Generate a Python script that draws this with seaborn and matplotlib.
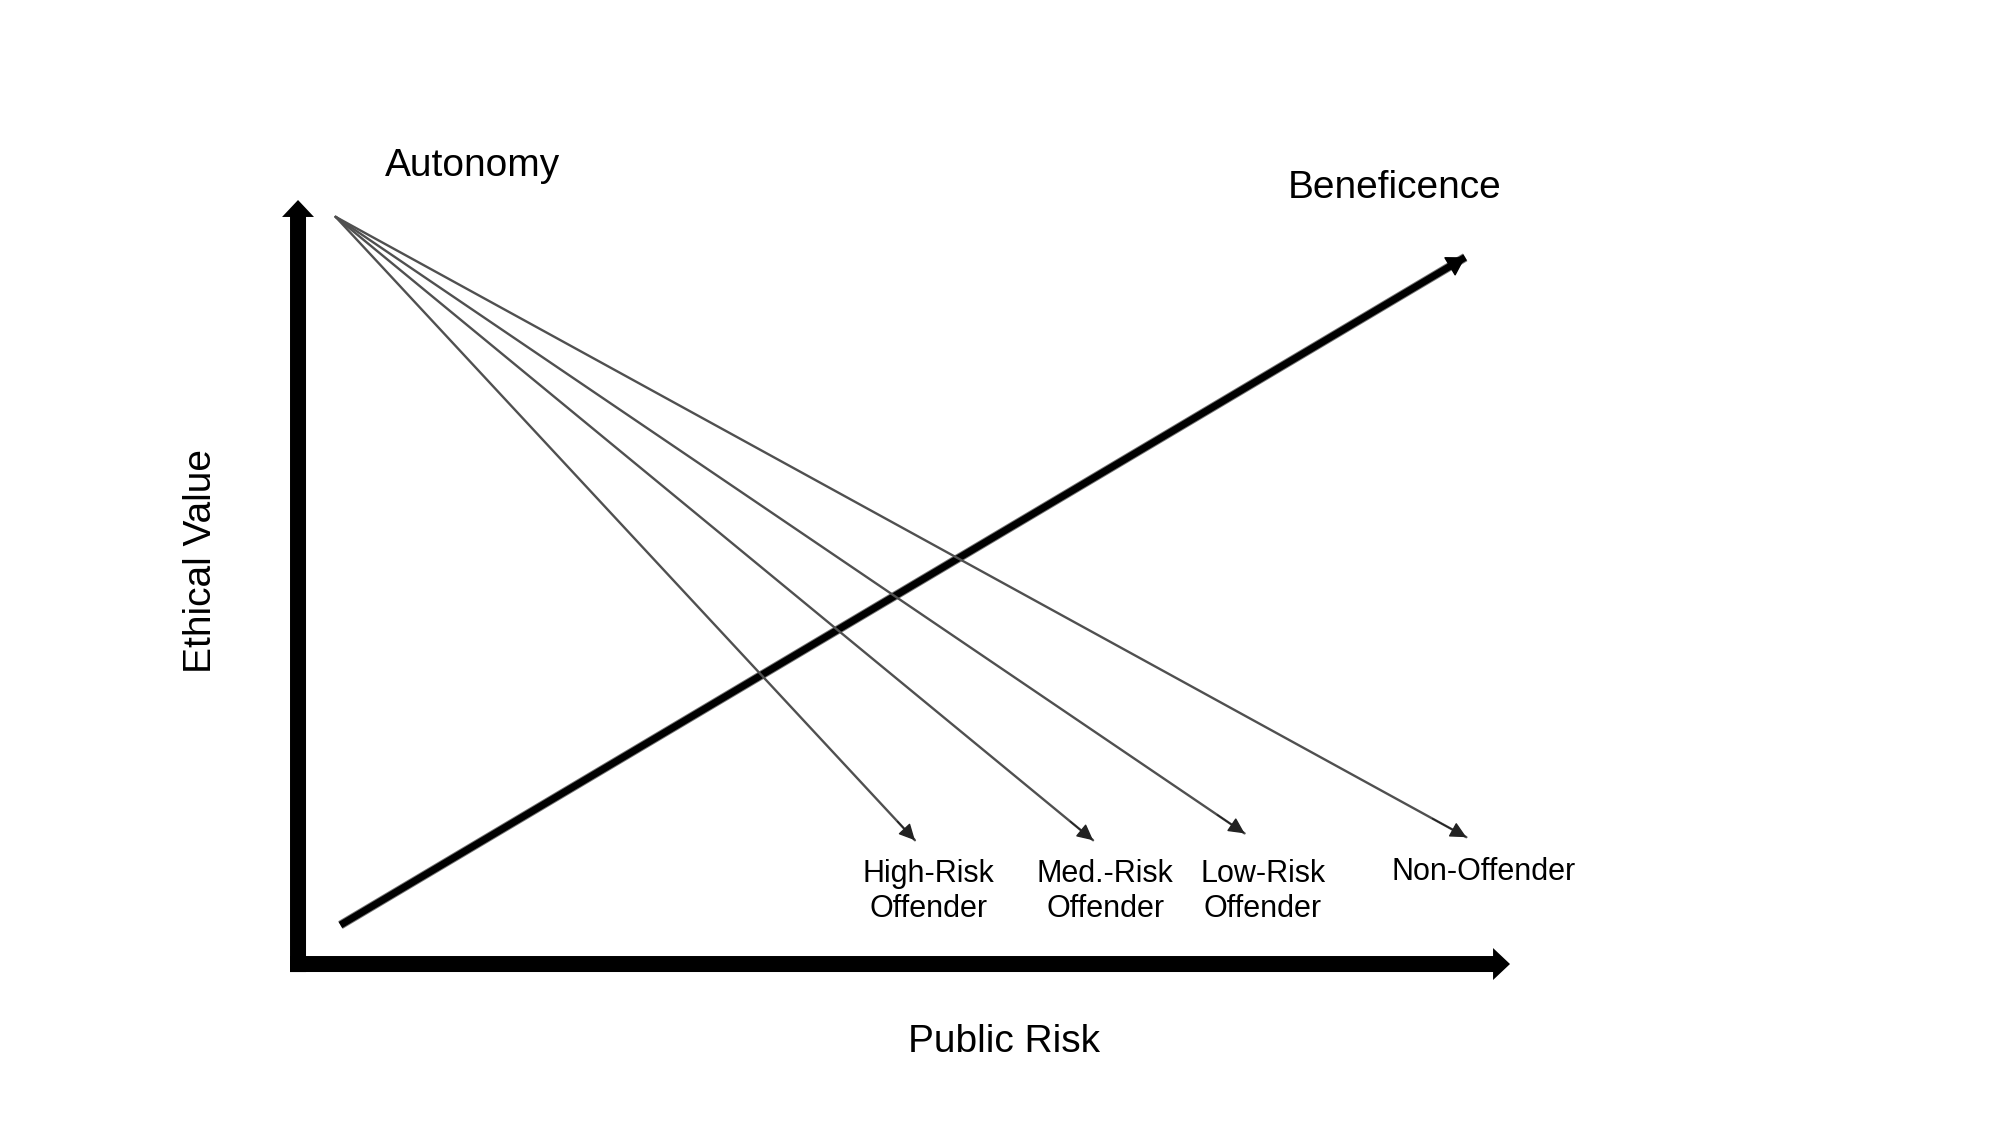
import matplotlib
matplotlib.use("Agg")
from matplotlib import pyplot as plt
import matplotlib.patheffects as pe
import seaborn as sns
import pandas as pd

# Diagram data (conceptual units: origin at the axes corner, arrow tips at 100)
autonomy_start = (3.1, 97.8)
offender_labels = ["High-Risk\nOffender", "Med.-Risk\nOffender", "Low-Risk\nOffender", "Non-Offender"]
offender_end_x = [50.9, 65.6, 78.1, 96.4]
offender_end_y = [16.2, 16.2, 17.1, 16.6]
offender_label_x = [52.0, 66.6, 79.6, 97.8]
offender_label_y = [6.15, 6.15, 6.15, 11.0]

beneficence_x = [3.5, 96.3]
beneficence_y = [5.1, 92.5]

axis_max = 100

sns.set_style("white")
plt.rcParams["font.family"] = ["Liberation Sans", "DejaVu Sans"]
plt.rcParams["text.color"] = "black"

fig = plt.figure(figsize=(20, 11.25), dpi=100)
ax = fig.add_axes([0, 0, 1, 1])
ax.set_xlim(-24.59, 140.43)
ax.set_ylim(-21.07, 126.18)
ax.axis("off")

# Main axes arrows
axis_style = "simple,head_length=0.61,head_width=1.15,tail_width=0.576"
ax.annotate("", xy=(0, axis_max), xytext=(0, -1.05),
            arrowprops=dict(arrowstyle=axis_style, mutation_scale=20, color="black",
                            shrinkA=0, shrinkB=0, lw=0))
ax.annotate("", xy=(axis_max, 0), xytext=(-0.66, 0),
            arrowprops=dict(arrowstyle=axis_style, mutation_scale=20, color="black",
                            shrinkA=0, shrinkB=0, lw=0))

# Beneficence line
ben = pd.DataFrame({"x": beneficence_x, "y": beneficence_y})
sns.lineplot(data=ben, x="x", y="y", ax=ax, color="black", linewidth=5.0,
             sort=False, estimator=None, solid_capstyle="butt",
             path_effects=[pe.Stroke(linewidth=6.4, foreground="#777777"), pe.Normal()])
dx = beneficence_x[1] - beneficence_x[0]
dy = beneficence_y[1] - beneficence_y[0]
ax.annotate("", xy=(beneficence_x[1], beneficence_y[1]),
            xytext=(beneficence_x[1] - 0.03 * dx, beneficence_y[1] - 0.03 * dy),
            arrowprops=dict(arrowstyle="-|>,head_length=0.9,head_width=0.55", mutation_scale=13,
                            color="black", lw=1, shrinkA=0, shrinkB=0))

# Autonomy lines
rows = []
for lab, ex, ey in zip(offender_labels, offender_end_x, offender_end_y):
    rows.append({"x": autonomy_start[0], "y": autonomy_start[1], "target": lab})
    rows.append({"x": ex, "y": ey, "target": lab})
aut = pd.DataFrame(rows)
sns.lineplot(data=aut, x="x", y="y", units="target", estimator=None, sort=False,
             ax=ax, color="#505050", linewidth=1.7)
for ex, ey in zip(offender_end_x, offender_end_y):
    sx, sy = autonomy_start
    ax.annotate("", xy=(ex, ey), xytext=(ex - 0.03 * (ex - sx), ey - 0.03 * (ey - sy)),
                arrowprops=dict(arrowstyle="-|>,head_length=0.9,head_width=0.45", mutation_scale=11,
                                color="#222222", lw=1, shrinkA=0, shrinkB=0))

# Labels
for lab, lx, ly in zip(offender_labels, offender_label_x, offender_label_y):
    ax.text(lx, ly, lab, ha="center", va="baseline", fontsize=22, color="black",
            linespacing=1.2, multialignment="center")

ax.text(14.36, 103.1, "Autonomy", ha="center", va="baseline", fontsize=28, color="black")
ax.text(90.5, 100.3, "Beneficence", ha="center", va="baseline", fontsize=28, color="black")
ax.text(-8.0, 52.7, "Ethical Value", ha="center", va="center", rotation=90, fontsize=28, color="black")
ax.text(58.25, -11.5, "Public Risk", ha="center", va="baseline", fontsize=28, color="black")

if ax.get_legend() is not None:
    ax.get_legend().remove()

fig.savefig("out.png", dpi=100, facecolor="white")
